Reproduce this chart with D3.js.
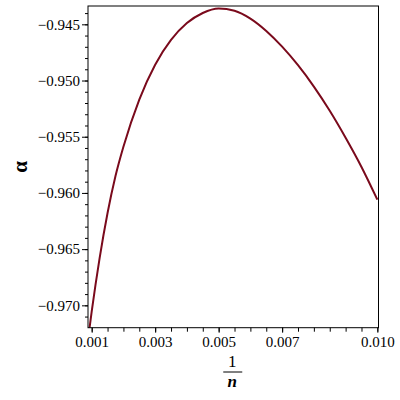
<!DOCTYPE html>
<html>
<head>
<meta charset="utf-8">
<script src="https://cdn.jsdelivr.net/npm/d3@7"></script>
<style>
  body { margin: 0; background: #fff; }
</style>
</head>
<body>
<div class="canvas"></div>
<script>
// data (x = 1/n, y = alpha)
const xs = [0.0009, 0.001, 0.00125, 0.0015, 0.00175, 0.002, 0.0025, 0.003, 0.0035, 0.004, 0.0045, 0.005,
    0.0055, 0.006, 0.0065, 0.007, 0.0075, 0.008, 0.0085, 0.009, 0.0095, 0.010]
const alphas = [-0.9727, -0.97057, -0.96580, -0.96179, -0.95850, -0.95589, -0.95169, -0.94859, -0.94639, -0.94489, -0.94399, -0.94359,
    -0.94379, -0.94449, -0.94559, -0.94699, -0.94864, -0.95054, -0.95269, -0.95509, -0.95769, -0.96060]

// tick labels
const xTickVals = [0.001, 0.003, 0.005, 0.007, 0.010]
const xTickLabels = ['0.001', '0.003', '0.005', '0.007', '0.010']
const yTickVals = [-0.945, -0.950, -0.955, -0.960, -0.965, -0.970]
const yTickLabels = ['\u22120.945', '\u22120.950', '\u22120.955', '\u22120.960', '\u22120.965', '\u22120.970']

const FONT = 'Liberation Serif'

const svg = d3.select('.canvas')
    .append('svg')
    .attr('width', 400)
    .attr('height', 400)

const margin = { top: 6, right: 21.5, bottom: 72.3, left: 88 }
const graphWidth = 400 - margin.left - margin.right
const graphHeight = 400 - margin.top - margin.bottom

const graph = svg.append('g')
    .attr('transform', `translate(${margin.left},${margin.top})`)

// scales
const x = d3.scaleLinear()
    .domain([0.000884, 0.010036])
    .range([0, graphWidth])
const y = d3.scaleLinear()
    .domain([-0.97199, -0.94337])
    .range([graphHeight, 0])

// clip
svg.append('defs').append('clipPath').attr('id', 'clip')
    .append('rect').attr('width', graphWidth).attr('height', graphHeight)

// curve
const pts = xs.map((d, i) => [d, alphas[i]])
const line = d3.line()
    .x(d => x(d[0]))
    .y(d => y(d[1]))
    .curve(d3.curveMonotoneX)

graph.append('path')
    .datum(pts)
    .attr('clip-path', 'url(#clip)')
    .attr('d', line)
    .attr('fill', 'none')
    .attr('stroke', '#7a0a1c')
    .attr('stroke-width', 2)

// frame
graph.append('rect')
    .attr('width', graphWidth)
    .attr('height', graphHeight)
    .attr('fill', 'none')
    .attr('stroke', '#000')
    .attr('stroke-width', 1)

// x axis: minor ticks every 0.0005
const xAxisGroup = graph.append('g')
    .attr('transform', `translate(0,${graphHeight})`)
xAxisGroup.call(d3.axisBottom(x)
    .tickValues(d3.range(0.001, 0.01001, 0.0005))
    .tickSize(4)
    .tickFormat(''))
const xLab = xAxisGroup.append('g').call(d3.axisBottom(x)
    .tickValues(xTickVals)
    .tickSize(5)
    .tickPadding(4)
    .tickFormat((d, i) => xTickLabels[i]))

// y axis: minor ticks every 0.001
const yAxisGroup = graph.append('g')
yAxisGroup.call(d3.axisLeft(y)
    .tickValues(d3.range(-0.971, -0.9435, 0.001))
    .tickSize(3)
    .tickFormat(''))
const yLab = yAxisGroup.append('g').call(d3.axisLeft(y)
    .tickValues(yTickVals)
    .tickSize(6)
    .tickPadding(2)
    .tickFormat((d, i) => yTickLabels[i]))

xLab.attr('font-family', FONT).attr('font-size', 15)
yLab.attr('font-family', FONT).attr('font-size', 15)

svg.selectAll('.domain').remove()
svg.selectAll('.tick line').attr('stroke', '#000')
svg.selectAll('.tick text').attr('fill', '#000')

// axis titles
svg.append('text')
    .attr('transform', `translate(27,${margin.top + graphHeight / 2}) rotate(-90)`)
    .attr('text-anchor', 'middle')
    .attr('font-family', FONT)
    .attr('font-size', 21)
    .attr('font-weight', 'bold')
    .text('\u03b1')

const cx = margin.left + graphWidth / 2
svg.append('text')
    .attr('x', cx - 1)
    .attr('y', 367)
    .attr('text-anchor', 'middle')
    .attr('font-family', FONT)
    .attr('font-size', 17)
    .text('1')
svg.append('line')
    .attr('x1', cx - 10).attr('x2', cx + 9)
    .attr('y1', 372).attr('y2', 372)
    .attr('stroke', '#000')
    .attr('stroke-width', 1)
svg.append('text')
    .attr('x', cx - 1)
    .attr('y', 387)
    .attr('text-anchor', 'middle')
    .attr('font-family', FONT)
    .attr('font-size', 17)
    .attr('font-style', 'italic')
    .attr('font-weight', 'bold')
    .text('n')
</script>
</body>
</html>
